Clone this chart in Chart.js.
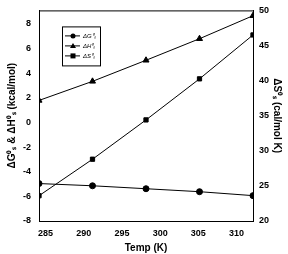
<!DOCTYPE html>
<html>
<head>
<meta charset="utf-8">
<script src="https://cdn.jsdelivr.net/npm/chart.js@4/dist/chart.umd.min.js"></script>
<style>
  html, body { margin: 0; padding: 0; background: #fff; }
  #wrap { width: 288px; height: 254px; }
</style>
</head>
<body>
<div id="wrap"><canvas id="thermoChart" width="288" height="254"></canvas></div>
<script>
const temps = [284.15, 291.15, 298.15, 305.15, 312.15];
const dG = [-4.96, -5.14, -5.38, -5.62, -5.94];
const dH = [1.79, 3.34, 5.05, 6.8, 8.67];
const dS = [23.6, 28.8, 34.4, 40.25, 46.5];
const seriesNames = ['\u0394G\u2070\u209b', '\u0394H\u2070\u209b', '\u0394S\u2070\u209b'];

const pts = (ys) => temps.map((t, i) => ({ x: t, y: ys[i] }));
const font = { family: 'Liberation Sans, Arial, sans-serif', size: 9, weight: 'bold' };

// frame around the plot area + small legend box
const framePlugin = {
    id: 'frame',
    afterDraw(chart) {
        const { ctx, chartArea: a } = chart;
        ctx.save();
        ctx.strokeStyle = '#000';
        ctx.lineWidth = 1;
        ctx.strokeRect(a.left + 0.5, a.top + 0.5, a.right - a.left, a.bottom - a.top);

        const bx = a.left + 23, by = a.top + 16, bw = 38, bh = 39;
        ctx.strokeRect(bx + 0.5, by + 0.5, bw, bh);
        chart.data.datasets.forEach((ds, i) => {
            const y = by + 9.5 + i * 10;
            ctx.beginPath();
            ctx.moveTo(bx + 3, y);
            ctx.lineTo(bx + 18, y);
            ctx.stroke();
            ctx.fillStyle = '#000';
            const mx = bx + 11;
            ctx.beginPath();
            if (ds.pointStyle === 'circle') ctx.arc(mx, y, 2.5, 0, Math.PI * 2);
            else if (ds.pointStyle === 'triangle') { ctx.moveTo(mx, y - 3); ctx.lineTo(mx + 3, y + 2); ctx.lineTo(mx - 3, y + 2); ctx.closePath(); }
            else ctx.rect(mx - 2.5, y - 2.5, 5, 5);
            ctx.fill();
            ctx.font = 'italic 6px Liberation Sans, Arial, sans-serif';
            ctx.textBaseline = 'middle';
            ctx.fillText(ds.label, bx + 21, y);
        });
        ctx.restore();
    }
};

const ctx = document.getElementById('thermoChart').getContext('2d');
new Chart(ctx, {
    type: 'line',
    data: {
        datasets: [
            { label: seriesNames[0], data: pts(dG), yAxisID: 'y', pointStyle: 'circle', pointRadius: 3 },
            { label: seriesNames[1], data: pts(dH), yAxisID: 'y', pointStyle: 'triangle', pointRadius: 3.5 },
            { label: seriesNames[2], data: pts(dS), yAxisID: 'y2', pointStyle: 'rect', pointRadius: 3 }
        ].map(d => Object.assign(d, {
            borderColor: '#000', backgroundColor: '#000', borderWidth: 1,
            pointBackgroundColor: '#000', pointBorderColor: '#000', tension: 0
        }))
    },
    options: {
        responsive: false,
        animation: false,
        layout: { padding: { top: 7, left: 0, right: 0, bottom: 0 } },
        plugins: { legend: { display: false }, tooltip: { enabled: false } },
        scales: {
            x: {
                type: 'linear', min: 284.15, max: 312.15,
                grid: { display: false, drawTicks: true, tickLength: 3, tickColor: '#000' },
                border: { color: '#000' },
                ticks: { stepSize: 5, includeBounds: false, color: '#000', font, padding: 4 },
                title: { display: true, text: 'Temp (K)', color: '#000', font: { ...font, size: 10 }, padding: 0 },
                afterFit: s => { s.height = 33; }
            },
            y: {
                position: 'left', min: -8, max: 9.1,
                grid: { display: false, drawTicks: true, tickLength: 3, tickColor: '#000' },
                border: { color: '#000' },
                ticks: { stepSize: 2, includeBounds: false, color: '#000', font, padding: 5 },
                title: { display: true, text: '\u0394G\u2070\u209b & \u0394H\u2070\u209b (kcal/mol)', color: '#000', font: { ...font, size: 10 }, padding: 6 },
                afterFit: s => { s.width = 39; }
            },
            y2: {
                position: 'right', min: 20, max: 50,
                grid: { display: false, drawTicks: true, tickLength: 3, tickColor: '#000' },
                border: { color: '#000' },
                ticks: { stepSize: 5, includeBounds: false, color: '#000', font, padding: 3 },
                title: { display: true, text: '\u0394S\u2070\u209b (cal/mol K)', color: '#000', font: { ...font, size: 10 }, padding: 5 },
                afterFit: s => { s.width = 35; }
            }
        }
    },
    plugins: [framePlugin]
});
</script>
</body>
</html>
